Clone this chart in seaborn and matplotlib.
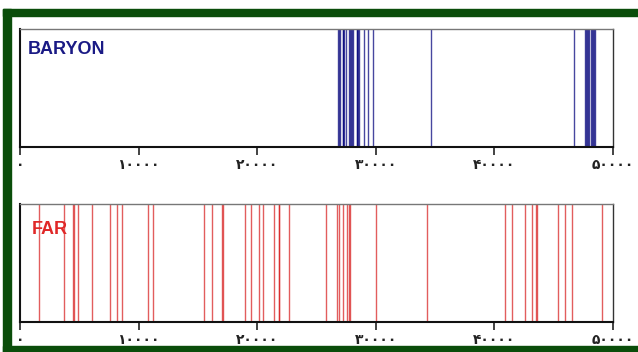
import matplotlib
matplotlib.use("Agg")
import matplotlib.pyplot as plt
from matplotlib.patches import Rectangle
import seaborn as sns

# positions (close pairs make the darker, thicker bars)
baryon = [26840, 26910, 26980, 27210, 27270, 27320, 27490, 27770, 27840, 27900, 27970,
          28110, 28390, 28450, 28510, 28560, 29030, 29370, 29790, 34630,
          46710, 47670, 47740, 47820, 47890, 48000, 48120, 48200, 48290, 48380, 48460]
far = [1600, 3690, 4450, 4560, 4870, 6050, 7590, 8200, 8630, 10820, 11190,
       15490, 16190, 17050, 17130, 18950, 19480, 20130, 20520, 21390, 21800, 21880,
       22660, 25830, 26730, 26870, 27240, 27600, 27700, 27820, 29990, 34350,
       40870, 41510, 42580, 43200, 43480, 43580, 45370, 45930, 46570, 49050]
tick_vals = [0, 10000, 20000, 30000, 40000, 50000]
tick_text = ["۰", "۱۰۰۰۰", "۲۰۰۰۰", "۳۰۰۰۰", "۴۰۰۰۰", "۵۰۰۰۰"]

sns.set_theme(style="white")
plt.rcParams['font.family'] = ['Liberation Sans', 'DejaVu Sans']

fig = plt.figure(figsize=(6.38, 3.52), dpi=100)
green = "#0a4d0a"
fig.patches.append(Rectangle((3/638, 1-16/352), 1-3/638, 7/352, transform=fig.transFigure, color=green, zorder=0))
fig.patches.append(Rectangle((3/638, 0), 8/638, 1-9/352, transform=fig.transFigure, color=green, zorder=0))
fig.patches.append(Rectangle((3/638, 0), 1-3/638, 6/352, transform=fig.transFigure, color=green, zorder=0))

panels = [(baryon, "BARYON", "#00007a", "#1a1a85", 0.72, 0.5824, (0.013, 0.9)),
          (far, "FAR", "#d81e1e", "#e02828", 0.72, 0.0852, (0.019, 0.86))]
for vals, name, col, tcol, alp, y0, pos in panels:
    ax = fig.add_axes([20/638, y0, 593/638, 0.3352])
    sns.rugplot(x=vals, height=1, ax=ax, color=col, lw=1.1, alpha=alp, expand_margins=False)
    ax.set_xlim(0, 50000)
    ax.set_ylim(0, 1)
    ax.set_yticks([])
    ax.set_xticks(tick_vals)
    ax.set_xticklabels(tick_text, family=['DejaVu Sans'], fontsize=10, fontweight='bold', color='#222222')
    ax.tick_params(axis='x', bottom=True, length=6, width=1.2, color='#222222', pad=2)
    ax.spines['top'].set_color('#777777')
    ax.spines['top'].set_linewidth(1.0)
    ax.spines['right'].set_color('#333333')
    ax.spines['right'].set_linewidth(1.0)
    for s in ['left', 'bottom']:
        ax.spines[s].set_color('#111111')
        ax.spines[s].set_linewidth(1.5)
    ax.text(pos[0], pos[1], name, transform=ax.transAxes, color=tcol, fontsize=13,
            fontweight='bold', va='top', ha='left')
    ax.set_xlabel('')

fig.savefig("out.png", dpi=100)
